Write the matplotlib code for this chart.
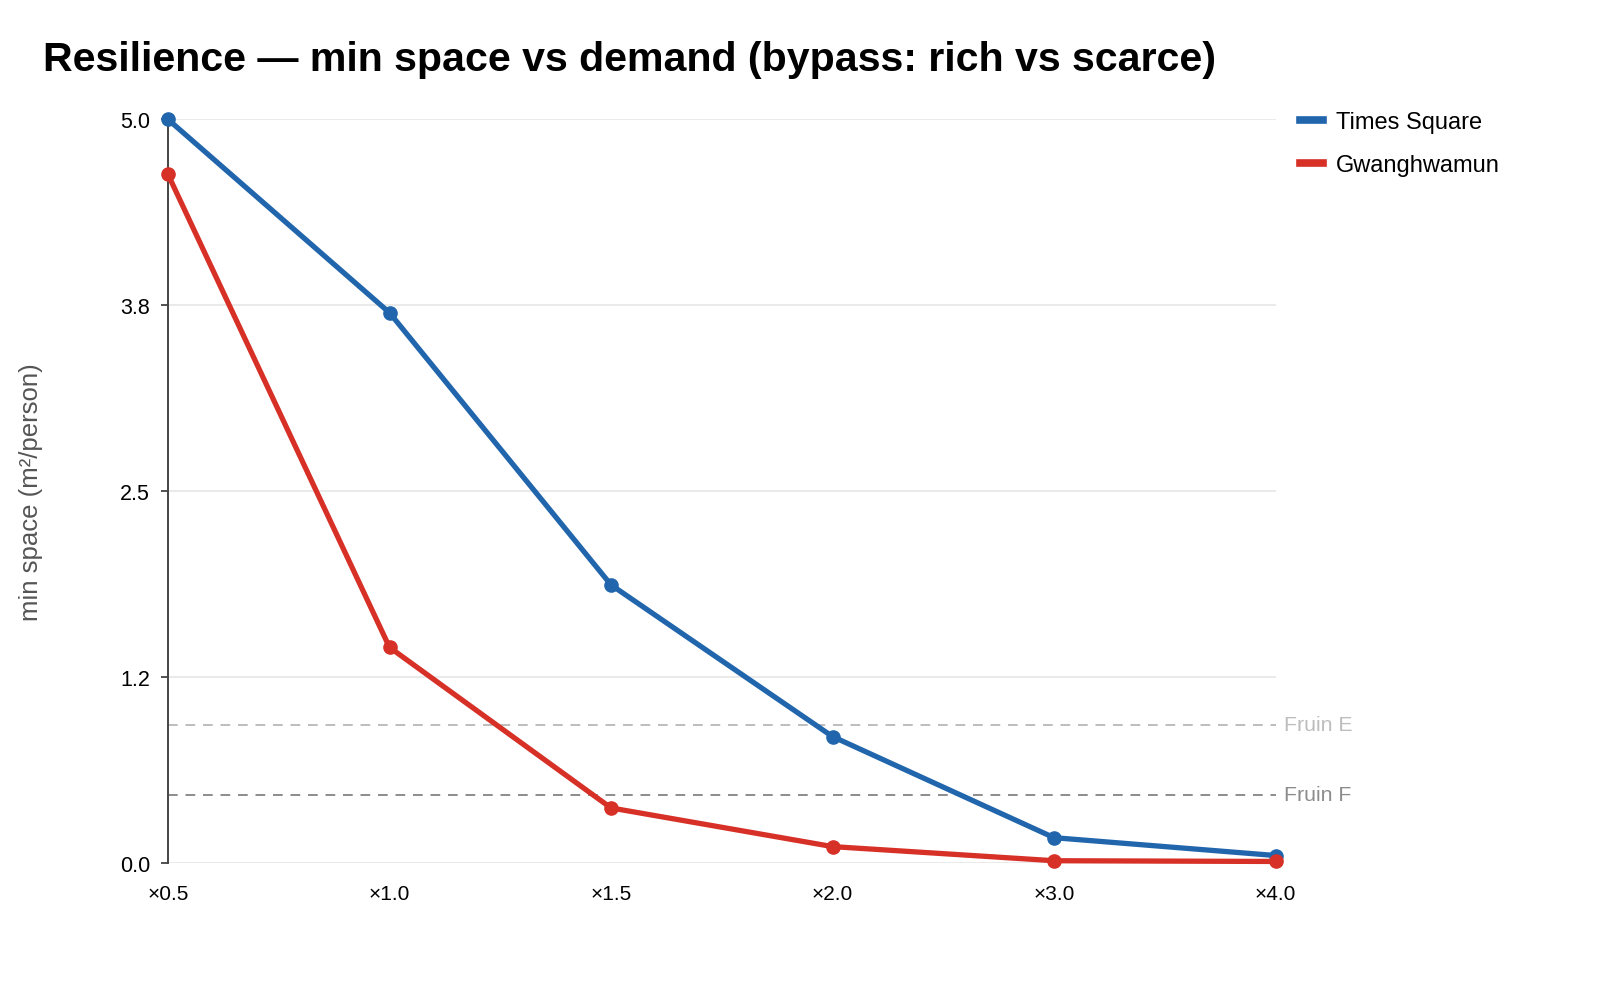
import numpy as np
import matplotlib.pyplot as plt

plt.rcParams['font.family'] = ['Liberation Sans', 'DejaVu Sans']

# data
demand = ['×0.5', '×1.0', '×1.5', '×2.0', '×3.0', '×4.0']
times_square = [5.0, 3.70, 1.87, 0.85, 0.17, 0.05]
gwanghwamun = [4.63, 1.45, 0.37, 0.11, 0.015, 0.01]
fruin_e = 0.93
fruin_f = 0.46
yticks = [0, 1.25, 2.5, 3.75, 5.0]

fig = plt.figure(figsize=(16, 9.95), dpi=100)
ax = fig.add_axes([0.105, 0.1317, 0.6922, 0.7473])

x = np.arange(len(demand))
ax.plot(x, times_square, color='#2166ac', lw=3.8, marker='o', ms=9.5,
        label='Times Square', clip_on=False, zorder=4)
ax.plot(x, gwanghwamun, color='#d73027', lw=3.8, marker='o', ms=9.5,
        label='Gwanghwamun', clip_on=False, zorder=5)

ax.axhline(fruin_e, color='#bdbdbd', lw=1.4, ls=(0, (5, 4)), zorder=2)
ax.axhline(fruin_f, color='#8c8c8c', lw=1.4, ls=(0, (5, 4)), zorder=2)
ax.text(1.008, fruin_e, 'Fruin E', transform=ax.get_yaxis_transform(),
        color='#bdbdbd', fontsize=15.3, va='center', ha='left')
ax.text(1.008, fruin_f, 'Fruin F', transform=ax.get_yaxis_transform(),
        color='#8c8c8c', fontsize=15.3, va='center', ha='left')

ax.set_xlim(0, len(demand) - 1)
ax.set_ylim(0, 5)
ax.set_xticks(x)
ax.set_xticklabels(demand)
ax.set_yticks(yticks)
ax.set_yticklabels(['%.1f' % v for v in yticks])
ax.tick_params(axis='x', length=0, pad=15, labelsize=15)
ax.tick_params(axis='y', length=5, width=1.2, color='#333333', labelsize=15.5, pad=8)
ax.grid(axis='y', color='#e8e8e8', lw=1.3, zorder=0)
ax.set_axisbelow(True)
for s in ['top', 'right', 'bottom']:
    ax.spines[s].set_visible(False)
ax.spines['left'].set_color('#444444')
ax.spines['left'].set_linewidth(1.4)

ax.set_ylabel('min space (m²/person)', color='#555555', fontsize=18.5)
ax.yaxis.set_label_coords(-0.113, 0.5)

fig.text(0.027, 0.94, 'Resilience — min space vs demand (bypass: rich vs scarce)',
         fontsize=29.6, fontweight='bold', ha='left', va='center')

leg = ax.legend(loc='upper left', bbox_to_anchor=(1.003, 1.04), frameon=False,
                fontsize=17, handlelength=0.95, handleheight=0.6, labelspacing=0.88,
                handletextpad=0.55)
for h in leg.get_lines():
    h.set_marker('')
    h.set_linewidth(5.5)

fig.savefig('out.png', dpi=100)
